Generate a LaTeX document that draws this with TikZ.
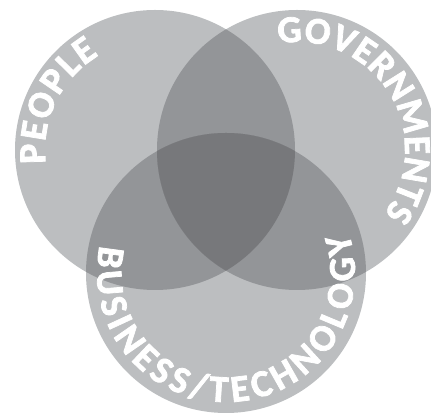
\documentclass[tikz,border=0pt]{standalone}
\usepackage{fontspec}
\newfontfamily\rimface{Carlito}[BoldFeatures={FakeBold=2}]
\usetikzlibrary{calc,decorations.text}
\definecolor{setfill}{HTML}{BCBEC0}
\definecolor{pairfill}{HTML}{939598}
\definecolor{corefill}{HTML}{77787B}
\newcommand\rimfont{\rimface\bfseries\fontsize{38}{38}\selectfont}
\begin{document}
\begin{tikzpicture}[x=1pt,y=1pt,
  rimlabel/.style={decorate, decoration={text along path, text align={fit to path},
    text color=white, text={|\rimfont|#1}}}]
\useasboundingbox (0,0) rectangle (431,414);
\def\R{140}
% circle centres
\coordinate (people) at (155,264);
\coordinate (gov) at (297,264);
\coordinate (biz) at (226,141);
% single sets
\fill[setfill] (people) circle[radius=\R];
\fill[setfill] (gov) circle[radius=\R];
\fill[setfill] (biz) circle[radius=\R];
% pairwise overlaps and the common core
\begin{scope}
  \clip (people) circle[radius=\R];
  \fill[pairfill] (gov) circle[radius=\R];
  \fill[pairfill] (biz) circle[radius=\R];
  \clip (gov) circle[radius=\R];
  \fill[corefill] (biz) circle[radius=\R];
\end{scope}
\begin{scope}
  \clip (gov) circle[radius=\R];
  \fill[pairfill] (biz) circle[radius=\R];
  \clip (people) circle[radius=\R];
  \fill[corefill] (biz) circle[radius=\R];
\end{scope}
% labels along the rims
\path[rimlabel=PEOPLE] ($(people)+(187:110)$) arc[start angle=187, end angle=120.6, radius=110];
\path[rimlabel=GOVERNMENTS] ($(gov)+(100:108)$) arc[start angle=100, end angle=-36.4, radius=108];
\path[rimlabel=BUSINESS/TECHNOLOGY] ($(biz)+(167.7:129)$) arc[start angle=167.7, end angle=378.1, radius=129];
\end{tikzpicture}
\end{document}
